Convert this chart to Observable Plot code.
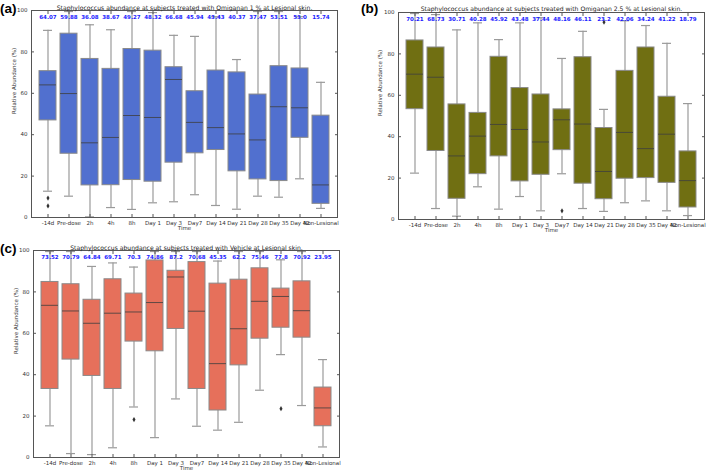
<!DOCTYPE html>
<html>
<head>
<meta charset="utf-8">
<script src="https://cdn.jsdelivr.net/npm/d3@7"></script>
<script src="https://cdn.jsdelivr.net/npm/@observablehq/plot@0.6"></script>
<style>
  html, body { margin: 0; padding: 0; background: #fff; }
  #root { position: relative; width: 709px; height: 471px; overflow: hidden; font-family: "DejaVu Sans", sans-serif; }
  .panel { position: absolute; }
  .tag { position: absolute; font-family: Arial, "Liberation Sans", sans-serif; font-weight: bold; font-size: 13.5px; line-height: 14px; }
</style>
</head>
<body>
<div id="root"></div>
<script>
const categories = ["-14d","Pre-dose","2h","4h","8h","Day 1","Day 3","Day7","Day 14","Day 21","Day 28","Day 35","Day 42","Non-Lesional"];
const yTicks = [0, 20, 40, 60, 80, 100];

// Panel (a): Omiganan 1 %
const titleA = "Staphylococcus abundance at subjects treated with Omiganan 1 % at Lesional skin.";
const lowA = [12.7, 10.3, 0.3, 4.8, 3.9, 7.1, 7.6, 11.0, 5.8, 4.0, 10.3, 9.8, 18.7, 4.4];
const q1A  = [46.9, 30.8, 15.5, 15.6, 18.1, 17.3, 26.5, 31.0, 32.6, 22.3, 18.4, 17.6, 38.5, 6.6];
const medA = [64.07, 59.88, 36.08, 38.67, 49.27, 48.32, 66.68, 45.94, 43.43, 40.37, 37.47, 53.51, 53.0, 15.74];
const q3A  = [70.7, 88.8, 76.6, 71.8, 81.4, 80.6, 72.6, 61.0, 71.0, 70.1, 59.4, 73.1, 72.0, 49.2];
const upA  = [90.4, 99.5, 93.1, 90.7, 99.5, 99.0, 88.0, 87.5, 97.0, 76.3, 99.5, 99.5, 97.0, 65.3];
const outCatA = ["-14d", "-14d"];
const outValA = [9.4, 5.6];

// Panel (b): Omiganan 2.5 %
const titleB = "Staphylococcus abundance at subjects treated with Omiganan 2.5 % at Lesional skin.";
const lowB = [22.4, 5.3, 1.6, 15.8, 5.0, 11.1, 4.2, 22.1, 5.3, 3.9, 8.1, 9.0, 4.2, 1.9];
const q1B  = [53.3, 33.1, 10.0, 21.9, 30.5, 18.4, 21.6, 33.5, 17.3, 9.8, 19.7, 20.0, 17.7, 5.8];
const medB = [70.21, 68.73, 30.71, 40.28, 45.92, 43.48, 37.44, 48.16, 46.11, 23.2, 42.06, 34.24, 41.22, 18.79];
const q3B  = [86.5, 83.1, 55.6, 51.5, 78.6, 63.5, 60.4, 53.2, 78.4, 44.2, 71.8, 83.1, 59.3, 32.9];
const upB  = [99.5, 99.0, 91.6, 95.0, 86.9, 95.0, 97.5, 77.8, 90.9, 53.2, 96.0, 93.7, 85.1, 56.0];
const outCatB = ["Day7", "Day 21"];
const outValB = [4.2, 95.3];

// Panel (c): Vehicle
const titleC = "Staphylococcus abundance at subjects treated with Vehicle at Lesional skin.";
const lowC = [15.3, 1.9, 1.4, 4.7, 24.4, 9.6, 28.3, 15.1, 13.2, 17.0, 32.5, 49.7, 25.1, 5.1];
const q1C  = [33.1, 47.3, 39.4, 33.1, 56.0, 51.3, 62.1, 33.1, 22.7, 44.5, 57.4, 62.7, 57.9, 15.1];
const medC = [73.52, 70.79, 64.84, 69.71, 70.3, 74.86, 87.2, 70.68, 45.35, 62.2, 75.46, 77.8, 70.92, 23.95];
const q3C  = [84.8, 83.7, 76.2, 86.1, 79.2, 95.2, 90.2, 94.4, 84.0, 85.9, 91.4, 81.6, 85.1, 33.8];
const upC  = [99.5, 99.5, 92.3, 94.0, 92.0, 99.5, 99.5, 99.5, 94.9, 99.5, 99.5, 95.5, 99.5, 47.3];
const outCatC = ["8h", "Day 35"];
const outValC = [18.3, 23.6];

function fmt(v) { return Number.isInteger(v) ? v.toFixed(1) : String(v); }

function makePanel(cfg) {
  const rows = categories.map((c, i) => ({
    cat: c, low: cfg.low[i], q1: cfg.q1[i], med: cfg.med[i], q3: cfg.q3[i], up: cfg.up[i]
  }));
  const outs = cfg.outCat.map((c, i) => ({cat: c, v: cfg.outVal[i]}));
  const fs = "5.5px";
  return Plot.plot({
    width: cfg.width, height: cfg.height,
    marginLeft: cfg.ml, marginRight: cfg.mr, marginTop: cfg.mt, marginBottom: cfg.mb,
    style: {fontFamily: "'DejaVu Sans', sans-serif", fontSize: fs, background: "white", overflow: "visible"},
    x: {domain: categories, type: "band", paddingInner: 0.2, paddingOuter: 0.1, label: null},
    y: {domain: [0, 100], label: null},
    marks: [
      Plot.ruleX(rows, {x: "cat", y1: "low", y2: "up", stroke: "#9a9a9a", strokeWidth: 1.2}),
      Plot.tickY(rows, {x: "cat", y: "low", stroke: "#9a9a9a", strokeWidth: 1.2, insetLeft: 4, insetRight: 4}),
      Plot.tickY(rows, {x: "cat", y: "up", stroke: "#9a9a9a", strokeWidth: 1.2, insetLeft: 4, insetRight: 4}),
      Plot.barY(rows, {x: "cat", y1: "q1", y2: "q3", fill: cfg.color, stroke: "#8a8a8a", strokeWidth: 1}),
      Plot.tickY(rows, {x: "cat", y: "med", stroke: "#3f3f3f", strokeWidth: 1, strokeOpacity: 0.8}),
      Plot.dot(outs, {x: "cat", y: "v", symbol: "diamond", r: 1.6, fill: "#333", stroke: null}),
      Plot.frame({stroke: "#555", strokeWidth: 1}),
      Plot.axisY(yTicks, {anchor: "left", tickSize: 0, tickPadding: 4, tickFormat: d => String(d), fontSize: fs, fill: "#333"}),
      Plot.axisY(yTicks, {anchor: "left", tickSize: 3, dx: 3, tickFormat: () => "", stroke: "#555"}),
      Plot.axisY(yTicks, {anchor: "right", tickSize: 3, dx: -3, tickFormat: () => "", stroke: "#555"}),
      Plot.axisX({anchor: "bottom", tickSize: 0, tickPadding: 4, fontSize: fs, fill: "#333"}),
      Plot.axisX({anchor: "bottom", tickSize: 3, dy: -3, tickFormat: () => "", stroke: "#555"}),
      Plot.axisX({anchor: "top", tickSize: 3, dy: 3, tickFormat: () => "", stroke: "#555"}),
      Plot.text(rows, {x: "cat", text: d => fmt(d.med), frameAnchor: "top", dy: 5, fill: "#1a1aff", fontWeight: "bold", fontSize: fs}),
      Plot.text([cfg.title], {text: d => d, frameAnchor: "top", dy: cfg.titleDy, fontSize: "6.1px", fill: "#222"}),
      Plot.text(["Time"], {text: d => d, frameAnchor: "bottom", dy: 12, fontSize: fs, fill: "#333"}),
      Plot.text(["Relative Abundance (%)"], {text: d => d, frameAnchor: "left", dx: cfg.ylabDx, rotate: -90, fontSize: fs, fill: "#333"})
    ]
  });
}

const root = document.getElementById("root");
function place(node, left, top) {
  const d = document.createElement("div");
  d.className = "panel";
  d.style.left = left + "px";
  d.style.top = top + "px";
  d.appendChild(node);
  root.appendChild(d);
}
function tag(text, left, top) {
  const d = document.createElement("div");
  d.className = "tag";
  d.textContent = text;
  d.style.left = left + "px";
  d.style.top = top + "px";
  root.appendChild(d);
}

place(makePanel({title: titleA, low: lowA, q1: q1A, med: medA, q3: q3A, up: upA, outCat: outCatA, outVal: outValA,
  color: "#5170cf", width: 350, height: 235, ml: 31, mr: 13, mt: 10, mb: 18, titleDy: -5, ylabDx: -17}), 0, 0);
place(makePanel({title: titleB, low: lowB, q1: q1B, med: medB, q3: q3B, up: upB, outCat: outCatB, outVal: outValB,
  color: "#706f12", width: 349, height: 237, ml: 38, mr: 5, mt: 12, mb: 18, titleDy: -5.5, ylabDx: -18}), 360, 0);
place(makePanel({title: titleC, low: lowC, q1: q1C, med: medC, q3: q3C, up: upC, outCat: outCatC, outVal: outValC,
  color: "#e6705b", width: 350, height: 231, ml: 33, mr: 11, mt: 10, mb: 14, titleDy: -4.5, ylabDx: -17}), 0, 240);

tag("(a)", 0, 2);
tag("(b)", 361, 2);
tag("(c)", 0, 242);
</script>
</body>
</html>
